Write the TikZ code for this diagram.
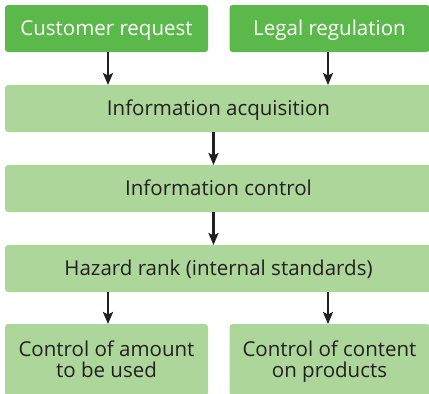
\documentclass[tikz,border=0pt]{standalone}
\usepackage{fontspec}
\setmainfont{Open Sans}
\usetikzlibrary{arrows.meta}
\definecolor{darkg}{HTML}{5BB94B}
\definecolor{lightg}{HTML}{ADD69B}
\definecolor{txt}{HTML}{231F20}
\begin{document}
\begin{tikzpicture}[x=1pt,y=-1pt,
  box/.style={rounded corners=3pt,inner sep=0pt,outer sep=0pt,align=center,
    font=\fontsize{20.5}{21}\selectfont},
  one/.style={text height=14.6pt,text depth=0pt},
  two/.style={text height=35.6pt,text depth=0pt},
  topbox/.style={box,one,fill=darkg,text=white,minimum width=203pt,minimum height=47pt},
  wide/.style={box,one,fill=lightg,text=txt,minimum width=427pt,minimum height=47pt},
  low/.style={box,two,fill=lightg,text=txt,minimum width=203pt,minimum height=72pt},
  arr/.style={-{Stealth[length=12pt,width=10pt,inset=2.5pt]},line width=2.6pt,draw=txt}]
\useasboundingbox (0,0) rectangle (429,394);
\node[topbox] (cr) at (106.5,28.5) {Customer request};
\node[topbox,minimum width=200pt] (lr) at (329.5,28.5) {Legal regulation};
\node[wide] (ia) at (218.5,108.5) {Information acquisition};
\node[wide] (ic) at (218.5,188.5) {Information control};
\node[wide] (hr) at (218.5,268.5) {Hazard rank (internal standards)};
\node[low] (ca) at (106.5,360) {Control of amount\\to be used};
\node[low,minimum width=200pt] (cc) at (329.5,360) {Control of content\\on products};
\draw[arr] ([xshift=1.5pt]cr.south) -- ([xshift=1.5pt]cr.south |- ia.north);
\draw[arr] ([xshift=-1.5pt]lr.south) -- ([xshift=-1.5pt]lr.south |- ia.north);
\draw[arr] ([xshift=-5pt]ia.south) -- ([xshift=-5pt]ic.north);
\draw[arr] ([xshift=-5pt]ic.south) -- ([xshift=-5pt]hr.north);
\draw[arr] ([xshift=1.5pt]ca.north |- hr.south) -- ([xshift=1.5pt]ca.north);
\draw[arr] ([xshift=-1.5pt]cc.north |- hr.south) -- ([xshift=-1.5pt]cc.north);
\end{tikzpicture}
\end{document}
